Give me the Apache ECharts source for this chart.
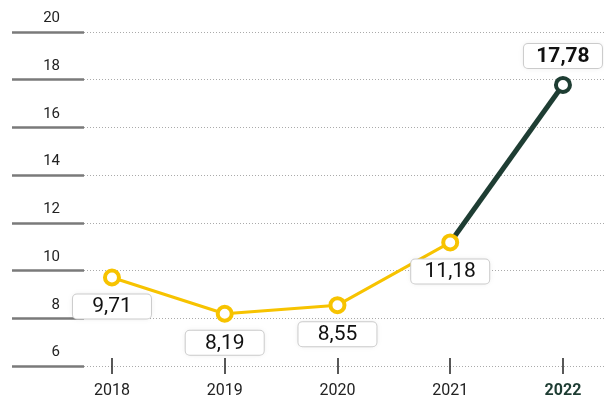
<!DOCTYPE html>
<html>
<head>
<meta charset="utf-8">
<script src="https://cdn.jsdelivr.net/npm/echarts@6/dist/echarts.min.js"></script>
<style>
  html, body { margin: 0; padding: 0; background: #fff; }
  #chart { width: 604px; height: 403px; }
</style>
</head>
<body>
<div id="chart"></div>
<script>
// data
var years = [2018, 2019, 2020, 2021, 2022];
var values = [9.71, 8.19, 8.55, 11.18, 17.78];
var yTicks = [6, 8, 10, 12, 14, 16, 18, 20];

var YELLOW = '#f7c300';
var GREEN = '#1e3d33';

function fmt(v) {
  return v.toFixed(2).replace('.', ',');
}

var points = years.map(function (y, i) { return [y, values[i]]; });
var last = points.length - 1;

var boxLabel = {
  show: true,
  position: 'bottom',
  distance: 8,
  formatter: function (p) { return fmt(p.value[1]); },
  fontFamily: 'Roboto',
  fontSize: 21,
  color: '#111',
  width: 78,
  align: 'center',
  padding: [2, 0, 1, 0],
  backgroundColor: '#fff',
  borderColor: '#d0d0d0',
  borderWidth: 1,
  borderRadius: 4,
  shadowColor: 'rgba(0,0,0,0.06)',
  shadowBlur: 6
};

var yellowData = points.slice(0, last);
var greenData = points.slice(last - 1).map(function (p, i) {
  if (i === 0) return { value: p, symbolSize: 0, label: { show: false } };
  return { value: p };
});

var chart = echarts.init(document.getElementById('chart'));
chart.setOption({
  animation: false,
  grid: [
    { left: 84, right: 0, top: 32, bottom: 37 },
    { left: 12, width: 72, top: 32, bottom: 37 }
  ],
  xAxis: [
    {
      type: 'value',
      gridIndex: 0,
      min: 2017.752,
      max: 2022.364,
      offset: -8,
      axisLine: { show: false },
      splitLine: { show: false },
      axisTick: {
        show: true,
        customValues: years,
        length: 16,
        lineStyle: { color: '#222', width: 1.5 }
      },
      axisLabel: {
        customValues: years,
        margin: 25,
        fontFamily: 'Roboto',
        fontSize: 16,
        color: '#222',
        formatter: function (v) {
          return v === years[last] ? '{b|' + v + '}' : String(v);
        },
        rich: {
          b: { fontFamily: 'Roboto', fontSize: 16, fontWeight: 'bold', color: GREEN }
        }
      }
    },
    { type: 'value', gridIndex: 1, show: false }
  ],
  yAxis: [
    {
      type: 'value',
      gridIndex: 0,
      min: yTicks[0],
      max: yTicks[yTicks.length - 1],
      interval: 2,
      axisLine: { show: false },
      axisTick: { show: false },
      axisLabel: {
        margin: 24,
        verticalAlign: 'bottom',
        padding: [0, 0, 6, 0],
        fontFamily: 'Roboto',
        fontSize: 15,
        color: '#222'
      },
      splitLine: {
        show: true,
        lineStyle: { color: '#aaa', type: [1, 2], width: 1 }
      }
    },
    {
      type: 'value',
      gridIndex: 1,
      min: yTicks[0],
      max: yTicks[yTicks.length - 1],
      interval: 2,
      axisLine: { show: false },
      axisTick: { show: false },
      axisLabel: { show: false },
      splitLine: {
        show: true,
        lineStyle: { color: '#7a7a7a', width: 2.5 }
      }
    }
  ],
  series: [
    {
      type: 'line',
      data: greenData,
      z: 2,
      symbol: 'circle',
      symbolSize: 14,
      lineStyle: { color: GREEN, width: 5 },
      itemStyle: { color: '#fff', borderColor: GREEN, borderWidth: 4 },
      label: Object.assign({}, boxLabel, {
        position: 'top',
        distance: 8,
        fontWeight: 'bold'
      })
    },
    {
      type: 'line',
      data: yellowData,
      z: 3,
      symbol: 'circle',
      symbolSize: 14,
      lineStyle: { color: YELLOW, width: 3 },
      itemStyle: { color: '#fff', borderColor: YELLOW, borderWidth: 4 },
      label: boxLabel
    }
  ]
});
</script>
</body>
</html>
